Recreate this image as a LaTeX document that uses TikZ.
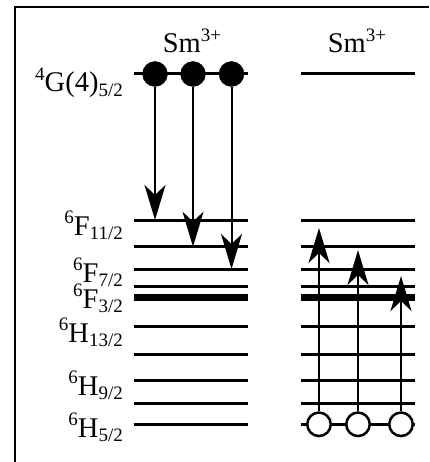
\documentclass[tikz,border=0pt]{standalone}
\usepackage{fontspec}
\setmainfont{Liberation Serif}
\usetikzlibrary{arrows.meta}
\newcommand\lup[1]{\raisebox{0.40em}{\fontsize{19}{19}\selectfont #1}}
\newcommand\ldn[1]{\raisebox{-0.17em}{\fontsize{19}{19}\selectfont #1}}
\begin{document}
\begin{tikzpicture}[x=1pt,y=-1pt,
  font=\fontsize{28.5}{30}\selectfont,
  level/.style={line width=3pt},
  thicklevel/.style={line width=7pt},
  full/.style={circle,fill=black,draw=black,minimum size=25pt,inner sep=0pt},
  empty/.style={circle,fill=white,draw=black,line width=2.5pt,minimum size=23.5pt,inner sep=0pt},
  trans/.style={line width=2pt,-{Stealth[length=35pt,width=21pt,inset=10pt]}},
  lab/.style={anchor=base east,inner sep=0pt},
  ion/.style={anchor=base,inner sep=0pt}]
\useasboundingbox (0,0) rectangle (429,462);
% frame (cropped)
\draw[line width=2pt] (429,7) -- (15,7) -- (15,462);
% levels
\draw[level] (134,74) -- (248,74);
\draw[level] (301,74) -- (415,74);
\foreach \y in {220,246.7,269,286,326.7,354,380,403.7,424.3} {
  \draw[level] (134,\y) -- (248,\y);
  \draw[level] (301,\y) -- (415,\y);
}
\draw[thicklevel] (134,297.7) -- (248,297.7);
\draw[thicklevel] (301,297.7) -- (415,297.7);
% ion labels
\node[ion] (s1) at (192,53) {Sm\lup{3+}};
\node[ion] (s2) at (357,53) {Sm\lup{3+}};
% level labels
\node[lab] (l1) at (123,92) {\lup{4}G(4)\ldn{5/2}};
\node[lab] (l2) at (123,235) {\lup{6}F\ldn{11/2}};
\node[lab] (l3) at (123,282) {\lup{6}F\ldn{7/2}};
\node[lab] (l4) at (123,308) {\lup{6}F\ldn{3/2}};
\node[lab] (l5) at (123,342) {\lup{6}H\ldn{13/2}};
\node[lab] (l6) at (123,395) {\lup{6}H\ldn{9/2}};
\node[lab] (l7) at (123,437) {\lup{6}H\ldn{5/2}};
% arrow end points
\coordinate (d1) at (155,220);
\coordinate (d2) at (193,246.7);
\coordinate (d3) at (231.5,269);
\coordinate (u1) at (319,228);
\coordinate (u2) at (358,250);
\coordinate (u3) at (401,276);
% populated states
\node[full] (g1) at (155,74) {};
\node[full] (g2) at (193,74) {};
\node[full] (g3) at (231.5,74) {};
\node[empty] (e1) at (319,424.3) {};
\node[empty] (e2) at (358,424.3) {};
\node[empty] (e3) at (401,424.3) {};
% transitions
\draw[trans] (g1.south) -- (d1);
\draw[trans] (g2.south) -- (d2);
\draw[trans] (g3.south) -- (d3);
\draw[trans] (e1.north) -- (u1);
\draw[trans] (e2.north) -- (u2);
\draw[trans] (e3.north) -- (u3);
\end{tikzpicture}
\end{document}
